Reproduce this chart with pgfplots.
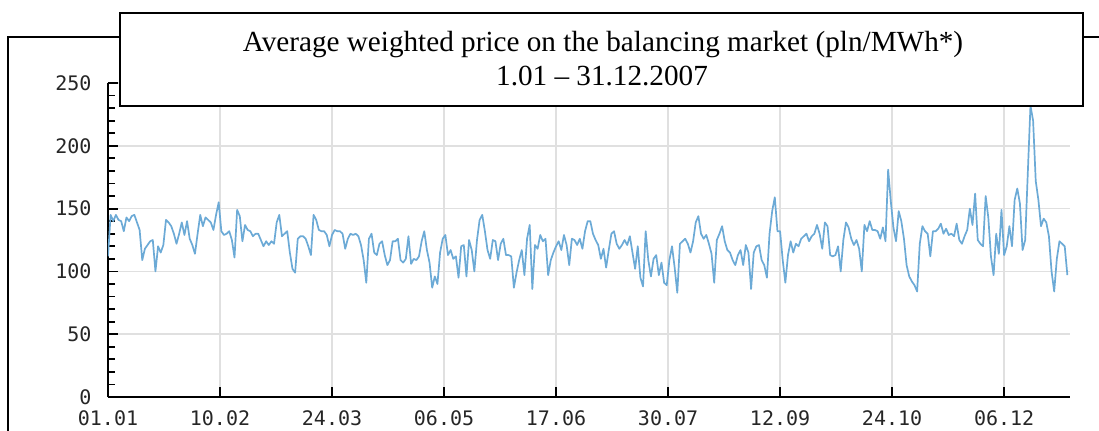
\documentclass[border=0pt]{standalone}
\usepackage{fontspec}
\setmainfont{Liberation Serif}
\newfontfamily\tickfont{DejaVu Sans Mono}
\usepackage{pgfplots}
\pgfplotsset{compat=1.18}
\definecolor{lineblue}{RGB}{108,170,214}
\definecolor{gridgray}{RGB}{224,224,224}
\begin{document}
\begin{tikzpicture}
\useasboundingbox (-54pt,-16.5pt) rectangle (495.5pt,198.5pt);
\begin{axis}[
 at={(0pt,0pt)}, anchor=south west,
 scale only axis, width=481pt, height=157pt,
 xmin=0, xmax=365, ymin=0, ymax=250,
 axis lines=left, axis line style={-, line width=0.9pt, black},
 enlargelimits=false,
 xtick={0,42.5,85,127.5,170,212.5,255,297.5,340},
 xticklabels={01.01,10.02,24.03,06.05,17.06,30.07,12.09,24.10,06.12},
 ytick={0,50,100,150,200,250},
 minor y tick num=4,
 tick align=inside,
 major tick length=5pt, minor tick length=3.5pt,
 tick style={black, line width=0.9pt},
 grid=major, major grid style={gridgray, line width=0.75pt},
 tick label style={font=\tickfont\fontsize{10}{12}\selectfont, text=black!85},
 /pgf/number format/assume math mode=true,
 xticklabel style={yshift=-3.2pt},
 yticklabel style={xshift=-4.7pt},
]
\addplot[lineblue, line width=0.85pt, sharp plot, mark=none, line join=round] table[row sep=\\] {
x y\\
0 112\\1 145\\2 140\\3 145\\4 141\\5 140\\6 132\\7 143\\8 140\\9 144\\
10 145\\11 139\\12 133\\13 109\\14 118\\15 121\\16 124\\17 125\\18 100\\19 120\\
20 115\\21 121\\22 141\\23 139\\24 136\\25 130\\26 122\\27 130\\28 139\\29 129\\
30 140\\31 126\\32 121\\33 114\\34 130\\35 145\\36 136\\37 143\\38 141\\39 139\\
40 133\\41 145\\42 155\\43 132\\44 129\\45 130\\46 132\\47 125\\48 111\\49 149\\
50 144\\51 124\\52 137\\53 133\\54 132\\55 128\\56 130\\57 130\\58 125\\59 120\\
60 124\\61 121\\62 124\\63 122\\64 139\\65 145\\66 128\\67 130\\68 132\\69 115\\
70 102\\71 99\\72 126\\73 128\\74 128\\75 126\\76 120\\77 113\\78 145\\79 141\\
80 133\\81 132\\82 132\\83 129\\84 120\\85 129\\86 133\\87 132\\88 132\\89 130\\
90 118\\91 126\\92 130\\93 129\\94 130\\95 128\\96 121\\97 109\\98 91\\99 126\\
100 130\\101 115\\102 113\\103 122\\104 124\\105 113\\106 105\\107 109\\108 124\\109 124\\
110 126\\111 109\\112 107\\113 110\\114 128\\115 106\\116 110\\117 109\\118 112\\119 124\\
120 132\\121 117\\122 107\\123 87\\124 96\\125 90\\126 115\\127 126\\128 129\\129 113\\
130 117\\131 110\\132 112\\133 95\\134 120\\135 121\\136 96\\137 125\\138 117\\139 100\\
140 125\\141 141\\142 145\\143 132\\144 117\\145 110\\146 125\\147 124\\148 109\\149 122\\
150 126\\151 113\\152 113\\153 112\\154 87\\155 99\\156 109\\157 117\\158 97\\159 126\\
160 137\\161 86\\162 121\\163 118\\164 129\\165 124\\166 126\\167 97\\168 109\\169 115\\
170 120\\171 124\\172 117\\173 129\\174 121\\175 105\\176 126\\177 125\\178 121\\179 126\\
180 118\\181 132\\182 140\\183 140\\184 130\\185 125\\186 121\\187 110\\188 118\\189 103\\
190 117\\191 130\\192 132\\193 122\\194 118\\195 121\\196 125\\197 121\\198 128\\199 115\\
200 102\\201 120\\202 95\\203 88\\204 132\\205 109\\206 96\\207 110\\208 113\\209 97\\
210 107\\211 91\\212 89\\213 109\\214 120\\215 103\\216 83\\217 122\\218 124\\219 126\\
220 122\\221 115\\222 124\\223 139\\224 144\\225 130\\226 126\\227 129\\228 122\\229 114\\
230 91\\231 125\\232 130\\233 136\\234 124\\235 117\\236 115\\237 109\\238 105\\239 113\\
240 117\\241 105\\242 121\\243 115\\244 86\\245 115\\246 120\\247 121\\248 109\\249 105\\
250 95\\251 130\\252 148\\253 159\\254 132\\255 132\\256 109\\257 91\\258 113\\259 124\\
260 115\\261 122\\262 120\\263 126\\264 128\\265 130\\266 124\\267 128\\268 130\\269 137\\
270 130\\271 118\\272 139\\273 136\\274 113\\275 112\\276 113\\277 120\\278 100\\279 125\\
280 139\\281 135\\282 126\\283 121\\284 125\\285 118\\286 100\\287 137\\288 132\\289 140\\
290 133\\291 133\\292 132\\293 126\\294 135\\295 124\\296 181\\297 156\\298 135\\299 124\\
300 148\\301 140\\302 126\\303 105\\304 96\\305 92\\306 89\\307 84\\308 122\\309 136\\
310 132\\311 130\\312 112\\313 132\\314 132\\315 134\\316 138\\317 130\\318 134\\319 129\\
320 130\\321 128\\322 138\\323 125\\324 122\\325 128\\326 133\\327 150\\328 137\\329 162\\
330 125\\331 122\\332 120\\333 160\\334 143\\335 112\\336 97\\337 130\\338 114\\339 149\\
340 113\\341 120\\342 136\\343 120\\344 157\\345 166\\346 154\\347 117\\348 125\\349 179\\
350 232\\351 220\\352 172\\353 157\\354 136\\355 142\\356 139\\357 128\\358 100\\359 84\\
360 110\\361 124\\362 122\\363 120\\364 97\\
};
\end{axis}
\draw[line width=1pt] (-50pt,-25pt) -- (-50pt,180pt) -- (6pt,180pt);
\draw[line width=1pt] (487.5pt,180pt) -- (505pt,180pt);
\draw[line width=1.2pt, fill=white] (6pt,145.5pt) rectangle (487.5pt,192pt);
\node[anchor=base, inner sep=0pt, font=\fontsize{14.6}{17}\selectfont] at (247.5pt,173pt) {Average weighted price on the balancing market (pln/MWh*)};
\node[anchor=base, inner sep=0pt, font=\fontsize{14.6}{17}\selectfont] at (247pt,156pt) {1.01 – 31.12.2007};
\end{tikzpicture}
\end{document}
